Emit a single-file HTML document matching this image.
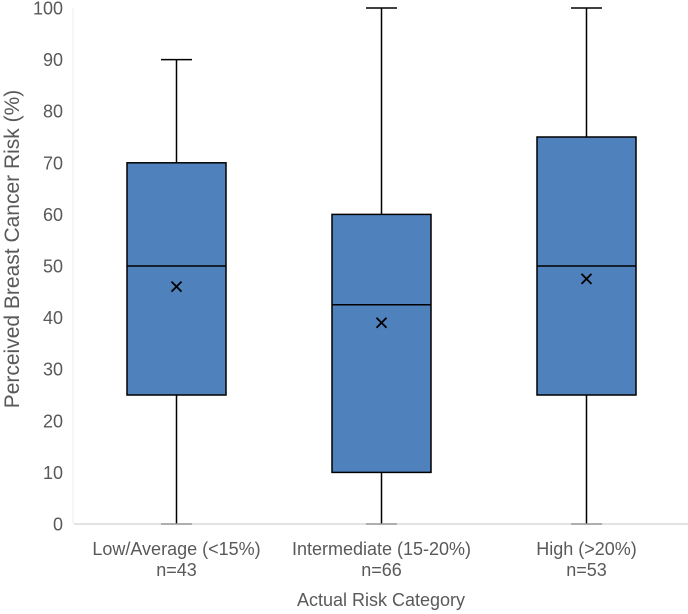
<!DOCTYPE html>
<html><head><meta charset="utf-8"><style>
body{margin:0;background:#fff;font-family:"Liberation Sans",sans-serif}
svg{display:block}
text{fill:#595959}
</style></head><body>
<svg width="688" height="614">
<g id="g"></g>
</svg>
<script>
const categories=["Low/Average (<15%)","Intermediate (15-20%)","High (>20%)"];
const counts=["n=43","n=66","n=53"];
const mins=[0,0,0];
const q1s=[25,10,25];
const medians=[50,42.5,50];
const q3s=[70,60,75];
const maxs=[90,100,100];
const means=[46,39,47.5];
const yTicks=[0,10,20,30,40,50,60,70,80,90,100];
const X0=74,X1=689,Y0=524,Y1=8;
const y=v=>Y0-(v/100)*(Y0-Y1);
const band=(X1-X0)/categories.length;
const x=i=>X0+band*(i+0.5);
const g=document.getElementById('g');
const NS='http://www.w3.org/2000/svg';
function mk(t,a){const e=document.createElementNS(NS,t);for(const k in a)e.setAttribute(k,a[k]);g.appendChild(e);return e;}
yTicks.forEach(v=>{const t=mk('text',{x:63,y:y(v)+6.5,'text-anchor':'end','font-size':18});t.textContent=v;

});
const yax=mk('line',{x1:73,x2:73,y1:Y1,y2:Y0,stroke:'#ececec','stroke-width':1});


const ax=mk('line',{x1:X0,x2:X1,y1:Y0,y2:Y0,stroke:'#d9d9d9','stroke-width':1.5});


const bw=99,cw=31;
categories.forEach((c,i)=>{
 const cx=x(i);
 const w=mk('line',{x1:cx,x2:cx,y1:y(maxs[i]),y2:y(mins[i]),stroke:'#000','stroke-width':1.5});
 
 
 const cap=mk('line',{x1:cx-cw/2,x2:cx+cw/2,y1:y(maxs[i]),y2:y(maxs[i]),stroke:'#000','stroke-width':1.5});
 
 
 const cap2=mk('line',{x1:cx-cw/2,x2:cx+cw/2,y1:y(mins[i]),y2:y(mins[i]),stroke:'#999','stroke-width':1.5});
 
 
 const b=mk('rect',{x:cx-bw/2,y:y(q3s[i]),width:bw,height:y(q1s[i])-y(q3s[i]),fill:'#4f81bd',stroke:'#000','stroke-width':1.5});
 
 
 const m=mk('line',{x1:cx-bw/2,x2:cx+bw/2,y1:y(medians[i]),y2:y(medians[i]),stroke:'#000','stroke-width':1.5});
 
 
 const my=y(means[i]);
 const mp=mk('path',{d:`M${cx-5},${my-5}L${cx+5},${my+5}M${cx+5},${my-5}L${cx-5},${my+5}`,stroke:'#000','stroke-width':1.8});
 
 
 const t=mk('text',{x:cx,y:555,'text-anchor':'middle','font-size':18});t.textContent=c;
 
 
 const n=mk('text',{x:cx,y:576,'text-anchor':'middle','font-size':18});n.textContent=counts[i];
 
 
});
const xt=mk('text',{x:381,y:606,'text-anchor':'middle','font-size':18});xt.textContent='Actual Risk Category';


const yt=mk('text',{x:0,y:0,'text-anchor':'middle','font-size':21,transform:'translate(19,249) rotate(-90)'});yt.textContent='Perceived Breast Cancer Risk (%)';


</script>
</body></html>
